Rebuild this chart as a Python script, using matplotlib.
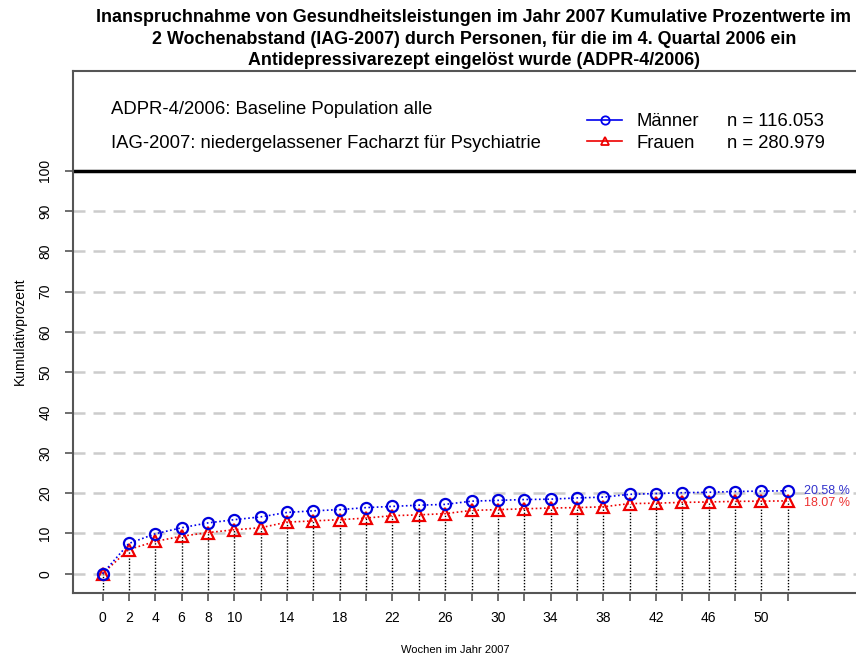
import matplotlib
matplotlib.use("Agg")
import matplotlib.pyplot as plt
from matplotlib.lines import Line2D

plt.rcParams['font.family'] = ['Liberation Sans', 'DejaVu Sans']

# Kumulative Prozentwerte im 2-Wochen-Abstand
wochen = list(range(0, 53, 2))
maenner = [0.0, 7.5, 9.9, 11.4, 12.6, 13.4, 14.1, 15.2, 15.6, 15.9, 16.4, 16.7, 17.0, 17.2,
           18.0, 18.2, 18.4, 18.5, 18.8, 19.0, 19.7, 19.9, 20.1, 20.2, 20.4, 20.5, 20.58]
frauen = [0.0, 6.0, 8.0, 9.3, 10.2, 10.9, 11.4, 12.8, 13.1, 13.4, 13.8, 14.4, 14.6, 14.9,
          15.7, 15.9, 16.1, 16.3, 16.4, 16.6, 17.4, 17.5, 17.7, 17.8, 17.95, 18.0, 18.07]
x_beschriftet = [0, 2, 4, 6, 8, 10, 14, 18, 22, 26, 30, 34, 38, 42, 46, 50]
y_ticks = list(range(0, 101, 10))
n_maenner = "n = 116.053"
n_frauen = "n = 280.979"

titel = ("Inanspruchnahme von Gesundheitsleistungen im Jahr 2007 Kumulative Prozentwerte im\n"
         "2 Wochenabstand (IAG-2007) durch Personen, für die im 4. Quartal 2006 ein\n"
         "Antidepressivarezept eingelöst wurde (ADPR-4/2006)")

W, H = 856, 657
fig = plt.figure(figsize=(W / 100, H / 100), dpi=100)
ax = fig.add_axes([73 / W, 1 - 593 / H, (870 - 73) / W, (593 - 71) / H])
ax.set_xlim(-2.24, 58.24)
ax.set_ylim(-4.8, 124.8)

axis_col = '#555555'
for s in ['left', 'bottom', 'top']:
    ax.spines[s].set_color(axis_col)
    ax.spines[s].set_linewidth(1.5)
ax.spines['right'].set_visible(False)

# Hilfslinien
for y in y_ticks[:-1]:
    ax.axhline(y, color='#cccccc', lw=1.8, ls=(0, (4.8, 3.2)), zorder=1)
ax.axhline(100, color='black', lw=2.5, zorder=2)

# senkrechte Linien zu den Messpunkten
ax.vlines(wochen, -4.8, frauen, colors='black', linestyles=(0, (1, 1.2)), lw=1, zorder=2)

l_m, = ax.plot(wochen, maenner, color='#0000ee', ls=(0, (1, 1.5)), lw=1.2, marker='o',
               ms=8, mfc='none', mec='#0000dd', mew=1.6, zorder=4)
l_w, = ax.plot(wochen, frauen, color='#ee0000', ls=(0, (1, 1.5)), lw=1.2, marker='^',
               ms=9, mfc='none', mec='#ee0000', mew=1.6, zorder=3)

ax.text(53.2, maenner[-1], f"{maenner[-1]:.2f} %", color='#3333cc', fontsize=9,
        va='center', ha='left')
ax.text(53.2, frauen[-1] - 0.6, f"{frauen[-1]:.2f} %", color='#ee3333', fontsize=9,
        va='center', ha='left')

ax.set_xticks(wochen)
ax.set_xticklabels([str(w) if w in x_beschriftet else '' for w in wochen])
ax.set_yticks(y_ticks)
ax.set_yticklabels([str(v) for v in y_ticks], rotation=90, va='center')
ax.tick_params(axis='both', colors=axis_col, labelcolor='black', labelsize=10,
               length=6, width=1.2)
ax.tick_params(axis='x', pad=7)
ax.tick_params(axis='y', pad=9)

fig.text(474 / W, 1 - 9 / H, titel, ha='center', va='top', fontsize=12.9,
         fontweight='bold', linespacing=1.36)
fig.text(20 / W, 1 - 331 / H, "Kumulativprozent", rotation=90, ha='center', va='center',
         fontsize=10)
fig.text(455 / W, 1 - 650 / H, "Wochen im Jahr 2007", ha='center', va='center', fontsize=8)

fig.text(111 / W, 1 - 109 / H, "ADPR-4/2006: Baseline Population alle", ha='left',
         va='center', fontsize=13.3)
fig.text(111 / W, 1 - 143 / H, "IAG-2007: niedergelassener Facharzt für Psychiatrie",
         ha='left', va='center', fontsize=13.3)

h_m = Line2D([], [], color='#0000ee', lw=1.2, marker='o', ms=6, mfc='none', mec='#0000ee', mew=1.3)
h_w = Line2D([], [], color='#ee0000', lw=1.2, marker='^', ms=6, mfc='none', mec='#ee0000', mew=1.3)
fig.legend([h_m, h_w], ["Männer", "Frauen"], loc='center left',
           bbox_to_anchor=(587 / W, 1 - 132.5 / H), frameon=False, fontsize=13.3,
           handlelength=1.9, handletextpad=0.8, labelspacing=0.25, borderpad=0,
           borderaxespad=0)
fig.text(727 / W, 1 - 121.5 / H, n_maenner, ha='left', va='center', fontsize=13.3)
fig.text(727 / W, 1 - 143.5 / H, n_frauen, ha='left', va='center', fontsize=13.3)

fig.savefig("out.png", dpi=100)
